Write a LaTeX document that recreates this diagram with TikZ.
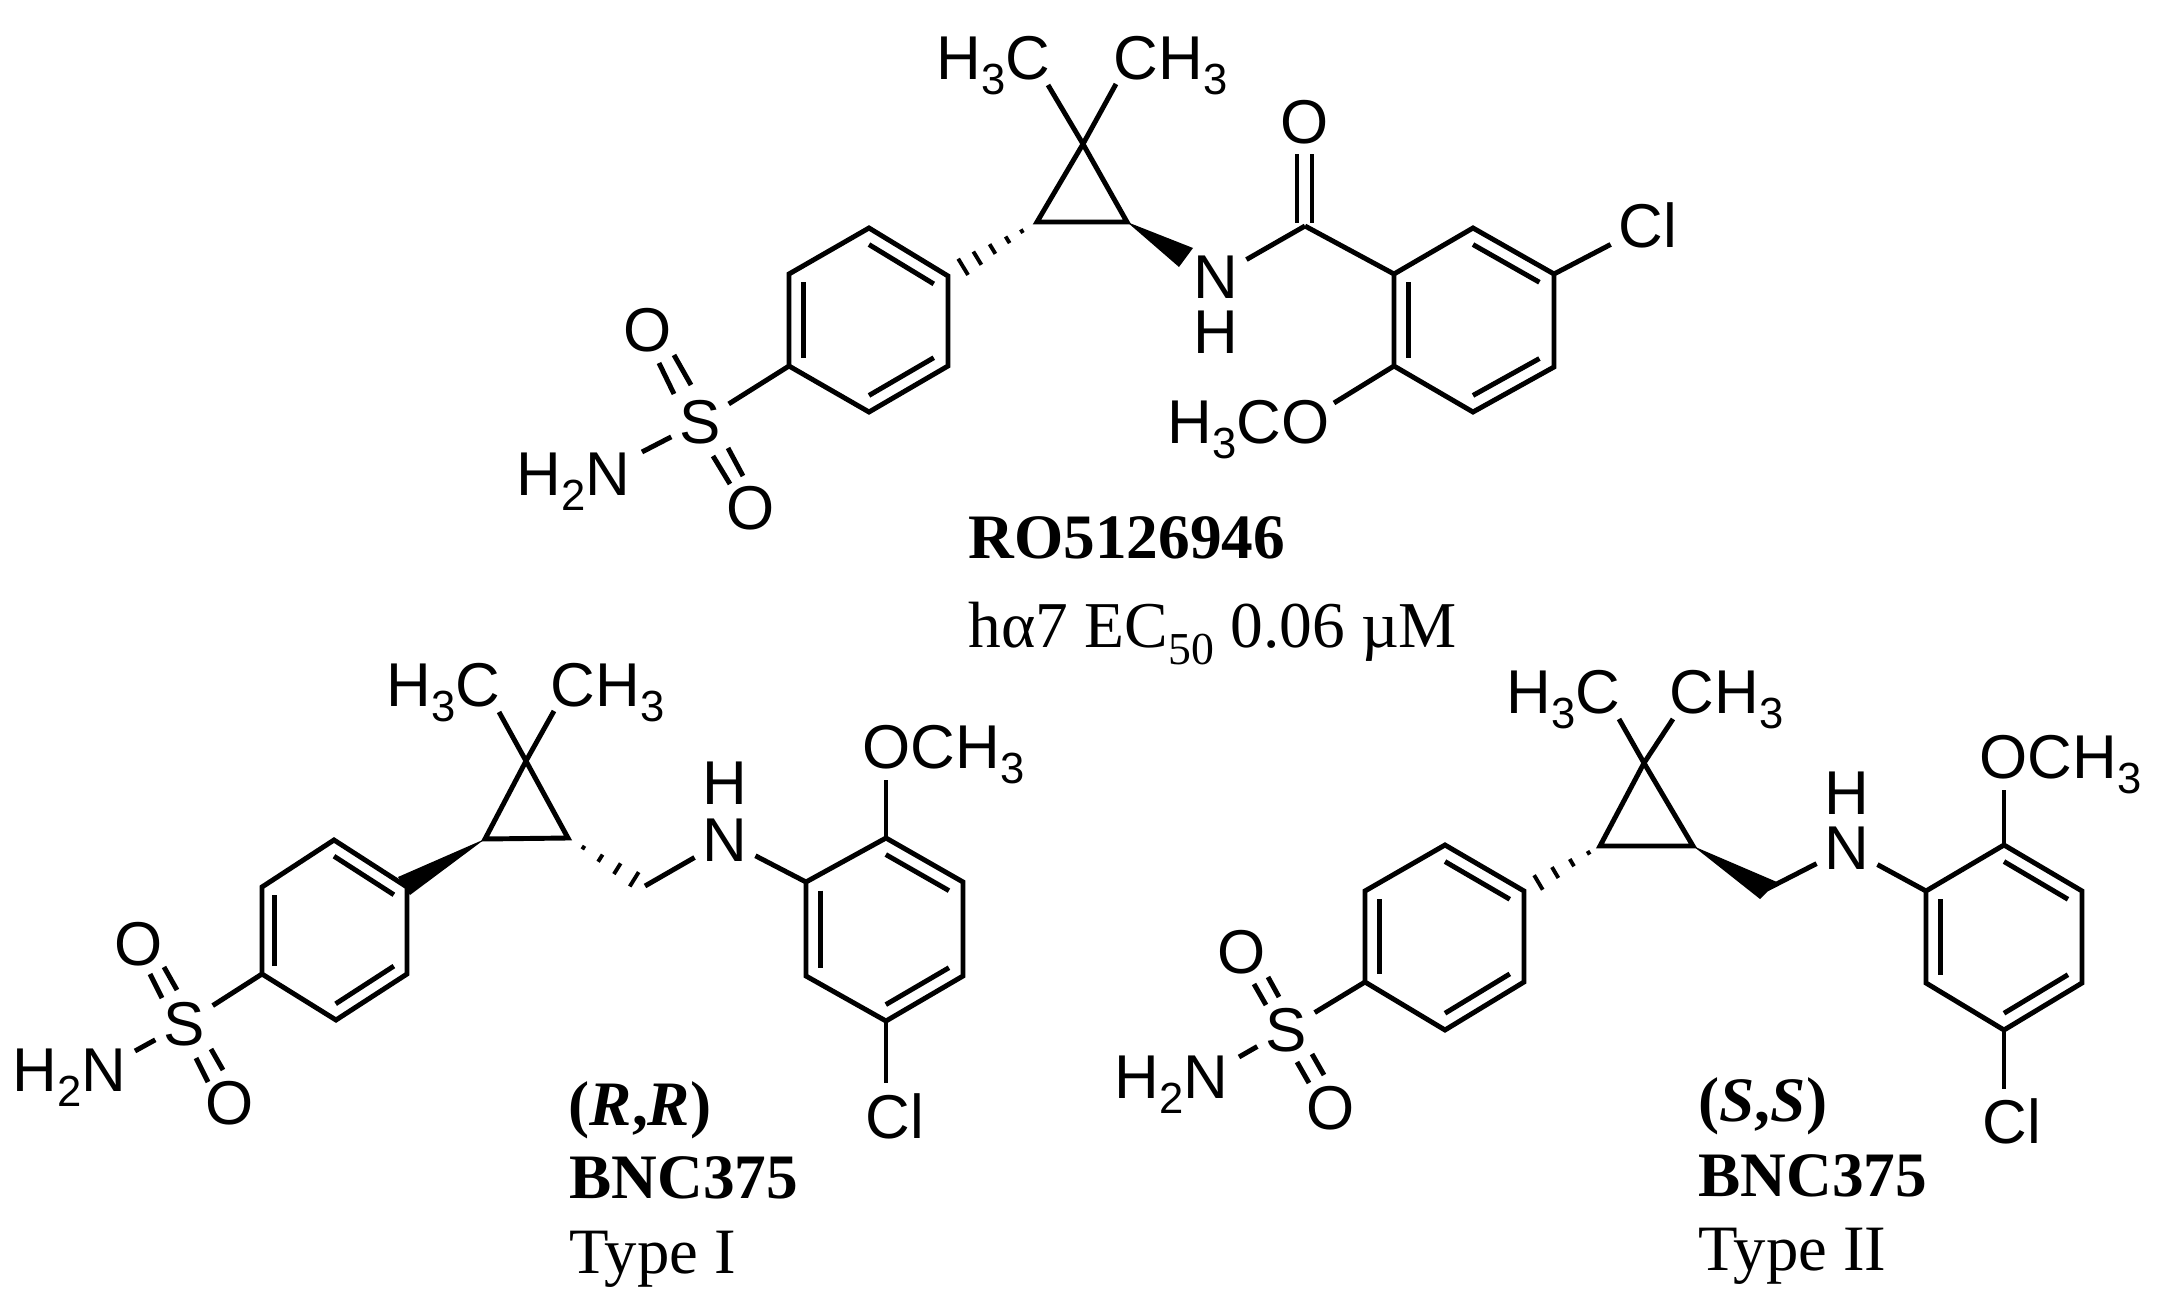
\documentclass[tikz,border=0pt]{standalone}
\usepackage{fontspec}
\setmainfont{Liberation Serif}
\newfontfamily\arialf{Liberation Sans}
\usetikzlibrary{calc}
\newcommand\chsub[1]{\raisebox{-4.4pt}{\fontsize{12.4}{13}\selectfont #1}}
\newcommand\hashbond[3]{\foreach \t/\w in {#3}{\draw[hashline] ($(#1)!\t!(#2)!\w pt!90:(#2)$) -- ($(#1)!\t!(#2)!\w pt!-90:(#2)$);}}
\newcommand\ringdbl[3]{\draw[bond] ($(#1)!.18!(#3)$) -- ($(#2)!.18!(#3)$);}
\newcommand\hexring[6]{\draw[bond,line join=miter] (#1) -- (#2) -- (#3) -- (#4) -- (#5) -- (#6) -- cycle;}
\tikzset{
  bond/.style={line width=1.4pt,black},
  hashline/.style={line width=1.1pt,black},
  atom/.style={inner sep=2.1pt,font=\arialf\fontsize{17.6}{19}\selectfont},
  hatom/.style={inner sep=0pt,font=\arialf\fontsize{17.6}{19}\selectfont},
  group/.style={inner sep=0pt,anchor=base west,font=\arialf\fontsize{17.6}{19}\selectfont},
  groupe/.style={inner sep=0pt,anchor=base east,font=\arialf\fontsize{17.6}{19}\selectfont},
  caption/.style={inner sep=0pt,anchor=base west,font=\fontsize{18}{20}\selectfont},
}
\begin{document}
\begin{tikzpicture}[x=0.01cm,y=-0.01cm]
\useasboundingbox (0,0) rectangle (2159,1309);
% ---------- RO5126946 ----------
\foreach \n/\x/\y in {aQ/1083/144,aMe/1048/85,aMf/1116/84,aL/1037/222,aR/1127/222,
  aA/869/228,aB/948/276,aC/948/366,aD/869/412,aE/789/366,aF/789/274,aX/869/320,
  aCO/1305/226,aG/1394/274,aH/1473/228,aI/1554/274,aJ/1554/367,aK/1473/412,aM/1394/366,aY/1473/320,
  aW/1193/248,aV/1179/267,aOe/1334/403,aNe/642/452,
  aU/1297/154,aUb/1297/223,aT/1312/154,aTb/1312/223,
  aS1/659/363,aS2/674/394,aS3/674/355,aS4/691/385,aS5/713/456,aS6/730/484,aS7/728/448,aS8/743/476}
  {\coordinate (\n) at (\x,\y);}
\node[group] (aH3C) at (936,79) {H\chsub{3}C};
\node[group] (aCH3) at (1113,79) {CH\chsub{3}};
\node[atom] (aN) at (1216,277) {N};
\node[hatom] (aNH) at (1216,332) {H};
\node[atom] (aO) at (1305,122) {O};
\node[atom] (aCl) at (1648,225) {Cl};
\node[atom] (aS) at (700,422) {S};
\node[atom] (aOa) at (648,330) {O};
\node[atom] (aOb) at (751,508) {O};
\node[groupe] (aOMe) at (1330,443) {H\chsub{3}CO};
\node[group] (aNH2) at (516,495) {H\chsub{2}N};
\draw[bond] (aMe) -- (aQ) -- (aMf);
\draw[bond,line join=miter] (aQ) -- (aL) -- (aR) -- cycle;
\hexring{aA}{aB}{aC}{aD}{aE}{aF}
\ringdbl{aA}{aB}{aX}\ringdbl{aC}{aD}{aX}\ringdbl{aE}{aF}{aX}
\hexring{aG}{aH}{aI}{aJ}{aK}{aM}
\ringdbl{aG}{aM}{aY}\ringdbl{aH}{aI}{aY}\ringdbl{aJ}{aK}{aY}
\hashbond{aL}{aB}{.17/.6,.33/1.1,.5/1.6,.67/2.2,.83/2.7}
\fill (aR) -- (aW) -- (aV) -- cycle;
\draw[bond] (aCO) -- (aN);
\draw[bond] (aCO) -- (aG);
\draw[bond] (aU) -- (aUb) (aT) -- (aTb);
\draw[bond] (aI) -- (aCl);
\draw[bond] (aM) -- (aOe);
\draw[bond] (aE) -- (aS);
\draw[bond] (aS) -- (aNe);
\draw[bond] (aS1) -- (aS2) (aS3) -- (aS4) (aS5) -- (aS6) (aS7) -- (aS8);
\node[caption] (aT1) at (968,558) {\textbf{RO5126946}};
\node[caption,font=\fontsize{18.6}{20}\selectfont] (aT2) at (968,647) {hα7 EC\raisebox{-5pt}{\fontsize{13}{13}\selectfont 50} 0.06 µM};
% ---------- (R,R) ----------
\foreach \n/\x/\y in {bQ/526/761,bMe/499/712,bMf/554/711,bL/485/839,bR/568/838,
  bA/334/840,bB/407/887,bC/407/974,bD/336/1020,bE/262/974,bF/262/887,bX/334/930,
  bG/806/882,bH/886/838,bI/963/882,bJ/963/976,bK/886/1021,bM/806/976,bY/885/930,
  bW/398/877,bV/410/895,bCH/645/886,bOe/886/780,bCe/886/1083,bNe/135/1051,
  bS1/150/974,bS2/162/998,bS3/164/967,bS4/177/990,bS5/196/1058,bS6/208/1082,bS7/211/1049,bS8/223/1070}
  {\coordinate (\n) at (\x,\y);}
\node[group] (bH3C) at (386,706) {H\chsub{3}C};
\node[group] (bCH3) at (550,706) {CH\chsub{3}};
\node[atom] (bN) at (725,840) {N};
\node[hatom] (bNH) at (725,783) {H};
\node[group] (bOMe) at (862,768) {OCH\chsub{3}};
\node[group] (bCl) at (865,1138) {Cl};
\node[atom] (bS) at (184,1024) {S};
\node[atom] (bOa) at (139,944) {O};
\node[atom] (bOb) at (230,1103) {O};
\node[group] (bNH2) at (12,1091) {H\chsub{2}N};
\draw[bond] (bMe) -- (bQ) -- (bMf);
\draw[bond,line join=miter] (bQ) -- (bL) -- (bR) -- cycle;
\hexring{bA}{bB}{bC}{bD}{bE}{bF}
\ringdbl{bA}{bB}{bX}\ringdbl{bC}{bD}{bX}\ringdbl{bE}{bF}{bX}
\hexring{bG}{bH}{bI}{bJ}{bK}{bM}
\ringdbl{bG}{bM}{bY}\ringdbl{bH}{bI}{bY}\ringdbl{bJ}{bK}{bY}
\fill (bL) -- (bW) -- (bV) -- cycle;
\hashbond{bR}{bCH}{.2/.6,.42/1.2,.64/1.8,.86/2.4}
\draw[bond] (bCH) -- (bN);
\draw[bond] (bN) -- (bG);
\draw[bond] (bH) -- (bOe);
\draw[bond] (bK) -- (bCe);
\draw[bond] (bE) -- (bS);
\draw[bond] (bS) -- (bNe);
\draw[bond] (bS1) -- (bS2) (bS3) -- (bS4) (bS5) -- (bS6) (bS7) -- (bS8);
\node[caption] (bT1) at (568,1125) {\textbf{(\textit{R},\textit{R})}};
\node[caption] (bT2) at (569,1198) {\textbf{BNC375}};
\node[caption,font=\fontsize{18.4}{20}\selectfont] (bT3) at (569,1273) {Type I};
% ---------- (S,S) ----------
\foreach \n/\x/\y in {cQ/1644/763,cMe/1619/719,cMf/1673/719,cL/1600/846,cR/1693/846,
  cA/1445/845,cB/1524/891,cC/1524/982,cD/1445/1030,cE/1365/982,cF/1365/891,cX/1445/937,
  cG/1926/891,cH/2004/845,cI/2082/891,cJ/2082/983,cK/2004/1030,cM/1926/983,cY/2004/937,
  cW/1777/882,cV/1760/899,cCH/1767/889,cOe/2004/790,cCe/2004/1089,cNe/1239/1057,
  cS1/1254/984,cS2/1266/1005,cS3/1268/977,cS4/1279/997,cS5/1297/1062,cS6/1309/1083,cS7/1312/1054,cS8/1324/1075}
  {\coordinate (\n) at (\x,\y);}
\node[group] (cH3C) at (1506,713) {H\chsub{3}C};
\node[group] (cCH3) at (1669,713) {CH\chsub{3}};
\node[atom] (cN) at (1847,848) {N};
\node[hatom] (cNH) at (1847,793) {H};
\node[group] (cOMe) at (1979,778) {OCH\chsub{3}};
\node[group] (cCl) at (1982,1143) {Cl};
\node[atom] (cS) at (1286,1030) {S};
\node[atom] (cOa) at (1242,952) {O};
\node[atom] (cOb) at (1331,1108) {O};
\node[group] (cNH2) at (1114,1098) {H\chsub{2}N};
\draw[bond] (cMe) -- (cQ) -- (cMf);
\draw[bond,line join=miter] (cQ) -- (cL) -- (cR) -- cycle;
\hexring{cA}{cB}{cC}{cD}{cE}{cF}
\ringdbl{cA}{cB}{cX}\ringdbl{cC}{cD}{cX}\ringdbl{cE}{cF}{cX}
\hexring{cG}{cH}{cI}{cJ}{cK}{cM}
\ringdbl{cG}{cM}{cY}\ringdbl{cH}{cI}{cY}\ringdbl{cJ}{cK}{cY}
\hashbond{cL}{cB}{.15/.6,.37/1.2,.59/1.8,.81/2.4}
\fill (cR) -- (cW) -- (cV) -- cycle;
\draw[bond] (cCH) -- (cN);
\draw[bond] (cN) -- (cG);
\draw[bond] (cH) -- (cOe);
\draw[bond] (cK) -- (cCe);
\draw[bond] (cE) -- (cS);
\draw[bond] (cS) -- (cNe);
\draw[bond] (cS1) -- (cS2) (cS3) -- (cS4) (cS5) -- (cS6) (cS7) -- (cS8);
\node[caption] (cT1) at (1698,1121) {\textbf{(\textit{S},\textit{S})}};
\node[caption] (cT2) at (1698,1196) {\textbf{BNC375}};
\node[caption,font=\fontsize{18.4}{20}\selectfont] (cT3) at (1698,1270) {Type II};
\end{tikzpicture}
\end{document}
